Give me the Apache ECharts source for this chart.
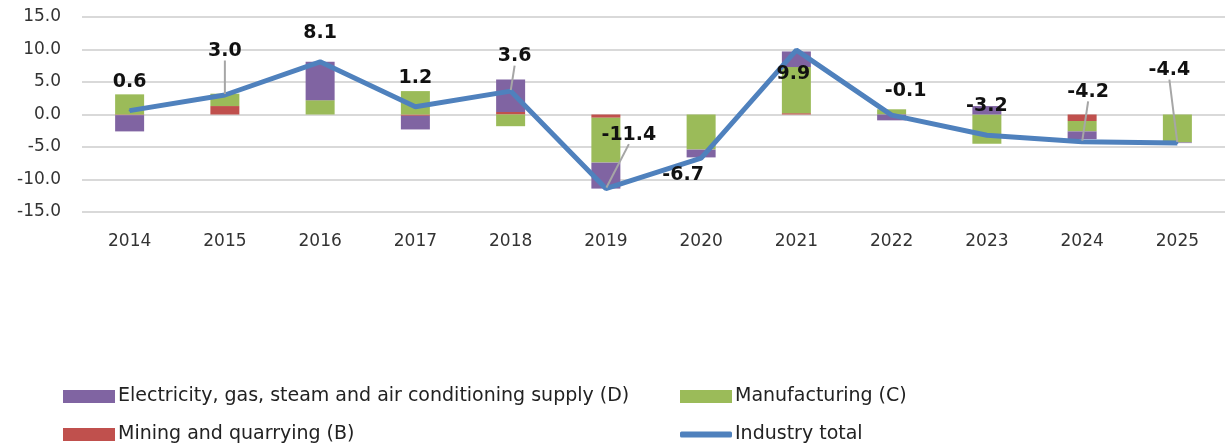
<!DOCTYPE html>
<html>
<head>
<meta charset="utf-8">
<script src="https://cdn.jsdelivr.net/npm/echarts@6/dist/echarts.min.js"></script>
<style>html,body{margin:0;padding:0;background:#fff}#c{width:1225px;height:446px}</style>
</head>
<body>
<div id="c"></div>
<script>
var years = ['2014','2015','2016','2017','2018','2019','2020','2021','2022','2023','2024','2025'];
var mining = [-0.1, 1.3, 0.0, -0.2, 0.4, -0.5, 0.0, 0.2, 0.0, 0.0, -1.0, 0.0];
var manufacturing = [3.1, 1.9, 2.2, 3.6, -1.8, -6.9, -5.4, 7.1, 0.8, -4.5, -1.6, -4.3];
var electricity = [-2.5, 0.0, 5.9, -2.1, 5.0, -4.0, -1.2, 2.4, -0.9, 1.3, -1.2, -0.1];
var industryTotal = [0.6, 3.0, 8.1, 1.2, 3.6, -11.4, -6.7, 9.9, -0.1, -3.2, -4.2, -4.4];
var yTicks = [-15, -10, -5, 0, 5, 10, 15];

var labelShift = [[0,-29],[0,-44],[0,-29],[0,-29],[4,-35],[23,-54],[-18,17],[-3,24],[14,-24],[0,-29],[6,-50],[-8,-73]];
var leader = [false,true,false,false,true,true,false,false,false,false,true,true];

var FONT = 'DejaVu Sans';
var chart = echarts.init(document.getElementById('c'), null, {renderer:'canvas'});
var lineData = industryTotal.map(function(v,i){
  return {value:v, labelLine:{show:leader[i]}};
});
var legendText = {fontFamily:FONT, fontSize:19, color:'#222', padding:[0,0,0,-2]};
chart.setOption({
  animation:false,
  textStyle:{fontFamily:FONT},
  grid:{left:82, top:17, width:1150, height:195},
  legend:[
    {data:['Electricity, gas, steam and air conditioning supply (D)'], left:58, top:382, itemWidth:52, itemHeight:13, icon:'rect', textStyle:legendText},
    {data:['Manufacturing (C)'], left:675, top:382, itemWidth:52, itemHeight:13, icon:'rect', textStyle:legendText},
    {data:['Mining and quarrying (B)'], left:58, top:420, itemWidth:52, itemHeight:13, icon:'rect', textStyle:legendText},
    {data:['Industry total'], left:675, top:420, itemWidth:52, itemHeight:6, icon:'roundRect', textStyle:legendText}
  ],
  xAxis:{
    type:'category', data:years,
    axisLine:{show:false}, axisTick:{show:false},
    axisLabel:{fontFamily:FONT, fontSize:17, color:'#333', margin:21}
  },
  yAxis:{
    type:'value', min:yTicks[0], max:yTicks[yTicks.length-1], interval:5,
    axisLine:{show:false}, axisTick:{show:false},
    axisLabel:{fontFamily:FONT, fontSize:17, color:'#333', margin:21, formatter:function(v){return v.toFixed(1);}},
    splitLine:{lineStyle:{color:'#d9d9d9', width:2}}
  },
  series:[
    {name:'Mining and quarrying (B)', type:'bar', stack:'s', barWidth:29, data:mining, itemStyle:{color:'#C0504D'}},
    {name:'Manufacturing (C)', type:'bar', stack:'s', barWidth:29, data:manufacturing, itemStyle:{color:'#9BBB59'}},
    {name:'Electricity, gas, steam and air conditioning supply (D)', type:'bar', stack:'s', barWidth:29, data:electricity, itemStyle:{color:'#8064A2'}},
    {name:'Industry total', type:'line', data:lineData, symbol:'circle', symbolSize:2, showSymbol:true,
      lineStyle:{color:'#4F81BD', width:5}, itemStyle:{color:'#4F81BD'},
      label:{show:true, position:'inside', fontFamily:FONT, fontWeight:'bold', fontSize:19, color:'#111',
        formatter:function(p){return p.value.toFixed(1);}},
      labelLine:{show:false, lineStyle:{color:'#a6a6a6', width:2}, length2:0},
      labelLayout:function(p){var s=labelShift[p.dataIndex]; return {dx:s[0], dy:s[1]};},
      z:5
    }
  ]
});
</script>
</body>
</html>
